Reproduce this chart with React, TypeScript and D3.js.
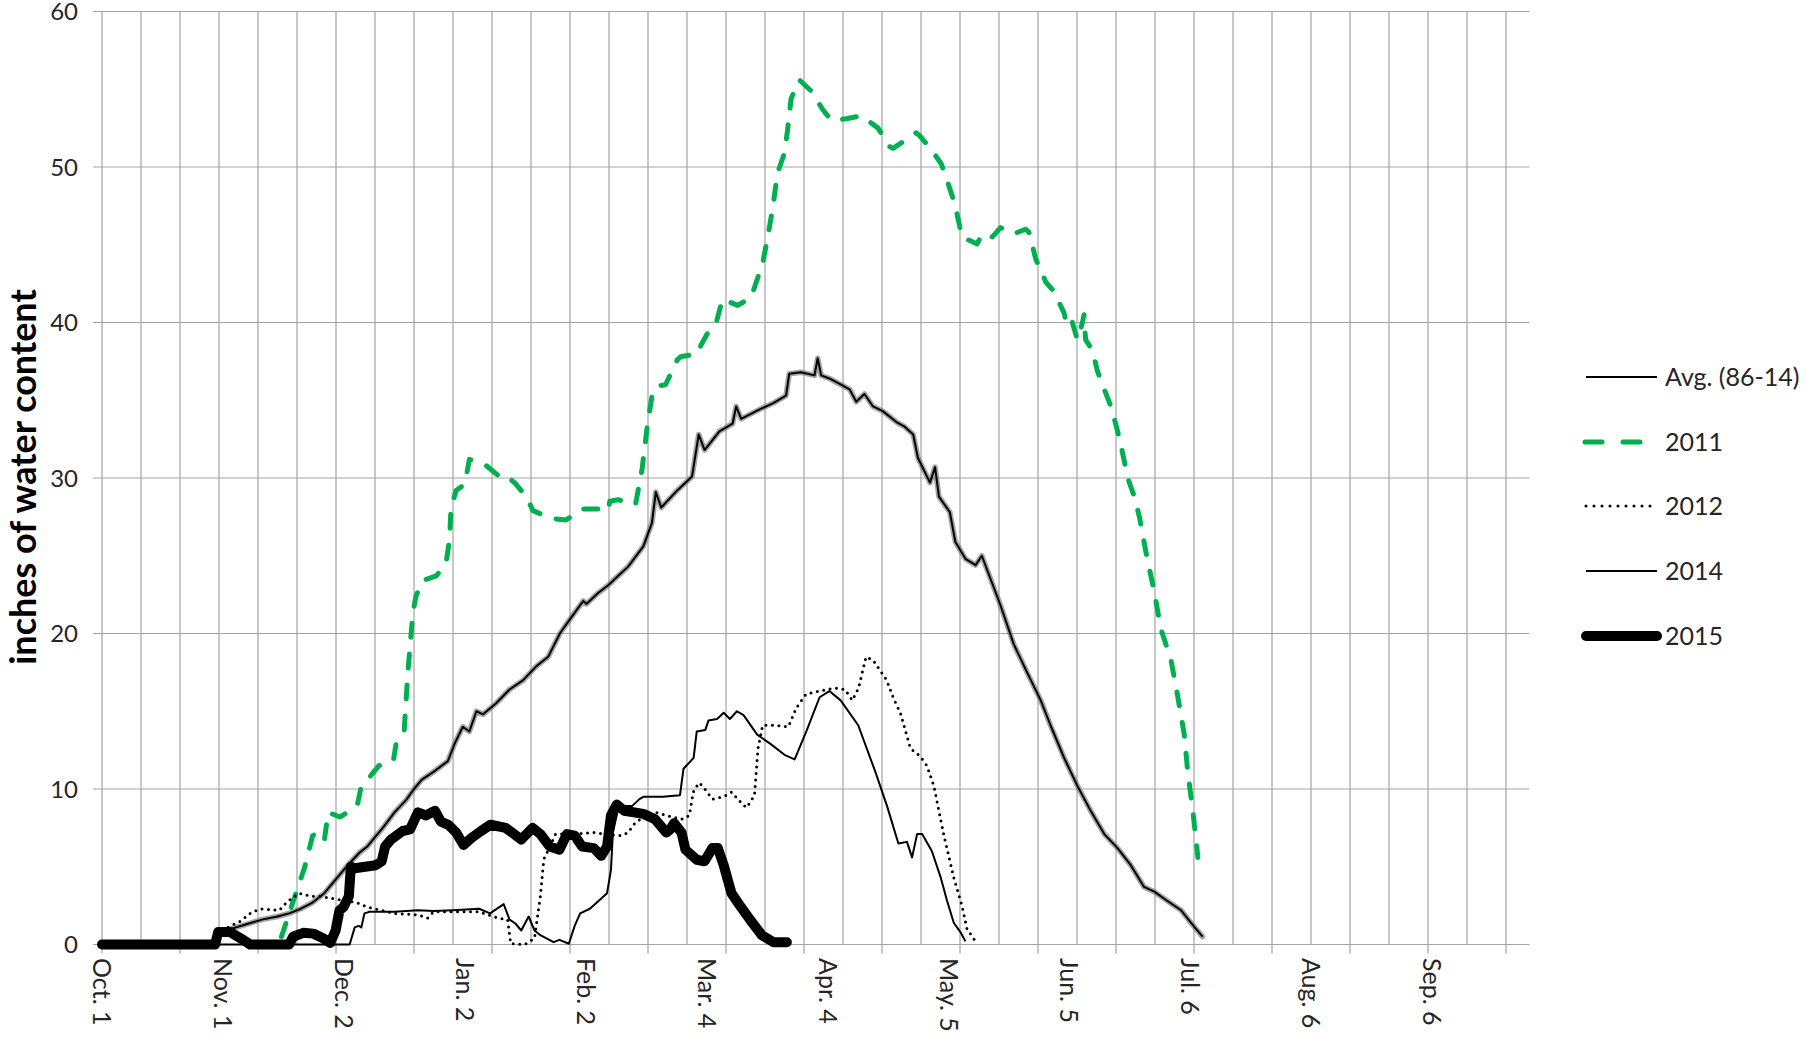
import React from "react";
import * as d3 from "d3";

// x = day index from Oct. 1 (leap-year season), y = inches of water content
const monthLabels = ["Oct. 1", "Nov. 1", "Dec. 2", "Jan. 2", "Feb. 2", "Mar. 4", "Apr. 4", "May. 5", "Jun. 5", "Jul. 6", "Aug. 6", "Sep. 6"];
const labelDays = [0, 31, 62, 93, 124, 155, 186, 217, 248, 279, 310, 341];
const yTicks = [0, 10, 20, 30, 40, 50, 60];

const avg86_14: [number, number][] = [
  [0, 0], [29, 0], [29.5, 0.8], [33, 1.0], [37, 1.3], [41, 1.6], [45, 1.8], [48, 2.0], [51, 2.3], [54, 2.7], [57, 3.3], [60, 4.2], [63, 5.1], [66, 5.9], [68, 6.3], [70, 6.9], [72, 7.5], [75, 8.5], [78, 9.3], [80, 10.0], [82, 10.6], [85, 11.1], [88.7, 11.8], [90.4, 12.9], [92.5, 14.0], [94.2, 13.7], [96, 15], [97.7, 14.8], [101, 15.5], [104.5, 16.4], [108, 17.0], [111.4, 17.9], [114.4, 18.5], [117.4, 20.0], [119.5, 20.75], [123.4, 22.1], [124.2, 21.9], [127.2, 22.6], [129.8, 23.1], [131.9, 23.6], [134.9, 24.3], [138.8, 25.6], [141, 27.1], [142, 29.1], [143.4, 28.1], [147.5, 29.2], [151.3, 30.1], [153, 32.8], [154.5, 31.8], [158.3, 33], [161.7, 33.5], [162.6, 34.6], [163.9, 33.8], [168.5, 34.4], [172, 34.8], [175.4, 35.3], [176.2, 36.7], [179.2, 36.8], [182.7, 36.6], [183.5, 37.7], [184.4, 36.6], [186.5, 36.4], [189.5, 36.0], [191.7, 35.7], [193.4, 34.9], [195.5, 35.4], [197.7, 34.6], [200.2, 34.3], [203.7, 33.6], [205.8, 33.3], [208, 32.8], [209.2, 31.3], [212.3, 29.7], [213.6, 30.7], [214.6, 28.8], [217.4, 27.8], [218.8, 25.9], [221.4, 24.8], [224, 24.4], [225.6, 25.0], [230.4, 21.8], [233.8, 19.3], [237.2, 17.5], [240.7, 15.7], [243.2, 14.1], [246.7, 12.0], [250.1, 10.2], [253.5, 8.6], [257, 7.1], [260.4, 6.2], [263.8, 5.1], [267.2, 3.7], [269.8, 3.4], [273.2, 2.8], [276.7, 2.2], [279.2, 1.4], [282.2, 0.5],
];

const y2011: [number, number][] = [
  [46, 0.5], [48, 2], [50, 3.5], [52, 5], [54, 7], [55.5, 7.2], [57, 6.7], [58, 8.5], [61, 8.2], [63, 8.5], [65.5, 9.0], [66.4, 10.1], [69.4, 11.0], [71, 11.5], [74.7, 11.8], [75.4, 12.9], [77.5, 13.8], [78.4, 17.4], [79.7, 21.3], [80.5, 22.4], [82.2, 23.4], [85.7, 23.7], [88.2, 24.5], [89.1, 26], [89.5, 28.1], [90.8, 29.2], [93, 29.6], [93.4, 30.1], [94.2, 31.2], [98.5, 30.8], [102.4, 30.0], [103.7, 30.1], [105.8, 29.7], [108.8, 28.8], [110.5, 27.9], [115.2, 27.4], [119, 27.3], [123.4, 28.0], [127.2, 28.0], [129.8, 27.9], [130.2, 28.5], [132.4, 28.6], [136.8, 28.3], [138.5, 30.6], [139.8, 33.3], [141.1, 35.4], [142, 35.9], [144.5, 36.0], [147.5, 37.6], [148.4, 37.8], [152.7, 38.0], [153.5, 38.5], [155.7, 39.5], [157.4, 39.9], [159.1, 41.5], [163, 41.1], [166.4, 41.6], [169.4, 43.8], [170.7, 45.5], [172, 47.4], [173.2, 49.6], [175, 50.9], [175.8, 52.4], [176.7, 54.4], [178.8, 55.6], [181.8, 54.9], [184.8, 53.7], [187, 53.0], [190.8, 53.1], [194.7, 53.3], [199, 52.5], [202, 51.3], [202.8, 51.2], [207.1, 51.9], [208.8, 52.2], [209.7, 52.0], [213, 51.0], [215.2, 50.2], [217, 48.9], [218.7, 47.6], [220.5, 45.5], [224.4, 45.05], [225.7, 45.7], [228.3, 45.5], [230.4, 46.1], [233.8, 45.7], [236.8, 46.0], [237.7, 45.8], [239.4, 44.1], [242, 42.6], [244.1, 42.0], [246.7, 40.6], [247.5, 39.7], [248.8, 40.0], [250.1, 38.9], [251.4, 40.0], [251.8, 40.5], [252.2, 38.9], [254, 38.2], [255.2, 36.9], [257, 35.7], [258.7, 34.6], [260, 33.4], [261.2, 32.2], [263, 30], [264.7, 28.8], [266, 27.5], [267.7, 25.2], [269.8, 22.7], [271.5, 20.3], [274.1, 18.3], [275.8, 16.0], [277.5, 13.5], [278.4, 11.1], [279.7, 8.6], [281, 5.6],
];

const y2012: [number, number][] = [
  [0, 0], [29, 0], [30, 0.8], [33, 1.2], [35.5, 1.5], [38, 2.0], [40.5, 2.3], [45.5, 2.2], [47.5, 2.75], [50.5, 3.3], [53.5, 3.1], [56, 3.1], [61.4, 2.85], [65.3, 2.7], [68.2, 2.4], [75, 2.0], [81, 1.9], [83.5, 1.7], [85, 2.1], [88, 2.1], [96.7, 2.1], [101.6, 1.7], [104, 1.6], [104.8, 0.05], [108.4, 0], [110.9, 0.4], [112.4, 3.1], [113.3, 5.5], [114.3, 6.0], [116.3, 7.1], [120.2, 7.1], [126.1, 7.2], [129, 7.1], [132.9, 7.0], [134.9, 7.2], [136.9, 7.9], [141.8, 8.5], [144.7, 8.3], [148.6, 8.05], [150.6, 8.3], [151.6, 9.8], [153, 10.4], [154, 10.2], [156.5, 9.35], [159.4, 9.5], [161.4, 9.8], [164.3, 9.0], [165.3, 8.8], [167.3, 9.6], [168.2, 12.6], [169.4, 14.1], [172, 14.1], [176, 14.0], [178, 15.2], [180.5, 16.1], [184, 16.3], [188, 16.5], [190.5, 16.4], [192.4, 15.7], [194, 16.5], [195.9, 18.5], [197.7, 18.3], [201.2, 17.0], [203, 15.8], [204.7, 14.9], [207.3, 12.6], [209.8, 12.1], [211.5, 11.5], [213.3, 10.2], [215.8, 7.1], [218.4, 4.3], [220.5, 2.5], [221.8, 1.0], [224.4, 0.05],
];

const y2014: [number, number][] = [
  [0, 0], [63.5, 0], [64.8, 1.1], [65.8, 1.2], [66.5, 1.1], [67.3, 2.0], [68.5, 2.1], [75, 2.1], [81, 2.2], [85, 2.15], [90, 2.2], [96.7, 2.3], [99.5, 2.0], [103, 2.6], [104.5, 1.6], [106, 1.35], [107.5, 0.9], [109.4, 1.8], [110.9, 0.9], [112.4, 0.6], [115.8, 0.15], [117.3, 0.3], [119.7, 0.05], [121.2, 1.2], [122.6, 2.0], [125.1, 2.3], [127.1, 2.75], [129.5, 3.3], [130.5, 4.8], [131, 7.2], [132.5, 8.9], [135.9, 8.9], [137.8, 9.35], [138.8, 9.5], [143.8, 9.5], [148.2, 9.6], [149.1, 11.3], [151.7, 12.0], [152.5, 13.7], [154.7, 13.8], [155.5, 14.4], [157.7, 14.5], [159.4, 14.9], [161, 14.5], [162.8, 15.0], [164.5, 14.75], [168, 13.5], [171.4, 12.9], [175, 12.2], [177.6, 11.9], [180.6, 13.7], [184, 15.9], [186.5, 16.3], [189.4, 15.7], [193.9, 14.1], [198.3, 11.1], [201.3, 8.9], [204.2, 6.5], [206.4, 6.6], [207.7, 5.6], [209, 7.1], [210.3, 7.1], [212.8, 6.0], [215, 4.35], [216.7, 2.8], [218.4, 1.4], [220.1, 0.8], [221.4, 0.2],
];

const y2015: [number, number][] = [
  [0, 0], [29, 0], [29.8, 0.8], [32.8, 0.8], [36.2, 0.3], [38, 0], [48, 0], [49, 0.5], [51.6, 0.75], [54.2, 0.7], [56.7, 0.4], [58.5, 0.1], [59.9, 0.9], [60.9, 2.2], [61.9, 2.4], [63.3, 3.1], [63.8, 5.0], [64.8, 4.9], [70.2, 5.1], [71.7, 5.35], [72.6, 6.3], [74.1, 6.75], [77.1, 7.3], [79, 7.4], [81, 8.5], [83, 8.3], [85.4, 8.6], [86.9, 7.9], [88.8, 7.7], [90.8, 7.2], [92.7, 6.4], [94.7, 6.85], [97.2, 7.3], [99.6, 7.7], [103.5, 7.5], [107.5, 6.75], [110.4, 7.5], [112.4, 7.1], [114.8, 6.3], [117.3, 6.1], [119.2, 7.1], [121.2, 7.0], [123.1, 6.3], [126.1, 6.2], [128, 5.7], [129.5, 6.3], [130.5, 8.3], [132, 9.0], [133.9, 8.6], [138.8, 8.4], [141.8, 8.05], [144.7, 7.2], [145.7, 7.4], [146.7, 7.8], [148.6, 7.2], [149.6, 6.1], [152.5, 5.45], [154.5, 5.35], [156.5, 6.2], [157.9, 6.2], [159.4, 5.1], [161.4, 3.3], [163.3, 2.6], [166.3, 1.55], [169.2, 0.6], [172.2, 0.15], [175.6, 0.15],
];

const legendNames = ["Avg. (86-14)", "2011", "2012", "2014", "2015"];

const W = 1806;
const H = 1038;
const FONT = "Lato, 'Liberation Sans', sans-serif";
const GRID = "#a3a3a3";
const GREEN = "#00b050";

export default function App() {
  const x = d3.scaleLinear().domain([0, 366]).range([102, 1529.4]);
  const y = d3.scaleLinear().domain([0, 60]).range([944.5, 11.5]);
  const line = d3
    .line<[number, number]>()
    .x((d) => x(d[0]))
    .y((d) => y(d[1]))
    .curve(d3.curveLinear);

  const gridDays = d3.range(0, 361, 10);
  const tickDays = d3.range(0, 361, 20);

  const legendY = [377, 442, 506, 571, 636];
  const lx0 = 1586;
  const lx1 = 1657;

  return (
    <svg
      width={W}
      height={H}
      viewBox={`0 0 ${W} ${H}`}
      style={{ position: "absolute", left: 0, top: 0, background: "#fff" }}
      fontFamily={FONT}
    >
      <rect x={0} y={0} width={W} height={H} fill="#fff" />
      {gridDays.map((d) => (
        <line key={"v" + d} x1={x(d)} x2={x(d)} y1={y(60)} y2={y(0)} stroke={GRID} strokeWidth={1.2} />
      ))}
      {tickDays.map((d) => (
        <line key={"t" + d} x1={x(d)} x2={x(d)} y1={y(0)} y2={y(0) + 9} stroke={GRID} strokeWidth={1.2} />
      ))}
      {yTicks.map((v) => (
        <line key={"h" + v} x1={93} x2={x(366)} y1={y(v)} y2={y(v)} stroke={GRID} strokeWidth={1.2} />
      ))}
      {yTicks.map((v) => (
        <text key={"yl" + v} x={78} y={y(v) + 8.5} textAnchor="end" fontSize={24} fill="#262626">
          {v}
        </text>
      ))}
      {labelDays.map((d, i) => (
        <text
          key={"xl" + d}
          transform={`translate(${x(d)},${958}) rotate(90)`}
          textAnchor="start"
          dy="0.35em"
          fontSize={25}
          fill="#262626"
        >
          {monthLabels[i]}
        </text>
      ))}
      <text
        transform={`translate(${23},${477}) rotate(-90)`}
        textAnchor="middle"
        dy="0.35em"
        fontSize={36}
        fontWeight="bold"
        fill="#000"
      >
        inches of water content
      </text>

      <path d={line(avg86_14) || ""} fill="none" stroke="#7f7f7f" strokeOpacity={0.7} strokeWidth={5.5} strokeLinejoin="round" strokeLinecap="round" />
      <path d={line(avg86_14) || ""} fill="none" stroke="#000" strokeWidth={2} strokeLinejoin="round" />
      <path d={line(y2011) || ""} fill="none" stroke={GREEN} strokeWidth={5} strokeDasharray="14 17" strokeLinecap="round" strokeLinejoin="round" />
      <path d={line(y2012) || ""} fill="none" stroke="#000" strokeWidth={3} strokeDasharray="0 6.5" strokeLinecap="round" strokeLinejoin="round" />
      <path d={line(y2014) || ""} fill="none" stroke="#000" strokeWidth={2} strokeLinejoin="round" />
      <path d={line(y2015) || ""} fill="none" stroke="#000" strokeWidth={10} strokeLinejoin="round" strokeLinecap="round" />

      <line x1={lx0} x2={lx1} y1={legendY[0]} y2={legendY[0]} stroke="#000" strokeWidth={2} />
      <line x1={lx0 - 1} x2={lx1 - 14} y1={legendY[1]} y2={legendY[1]} stroke={GREEN} strokeWidth={5} strokeDasharray="17 21" strokeLinecap="round" />
      <line x1={lx0} x2={lx1 - 6} y1={legendY[2]} y2={legendY[2]} stroke="#000" strokeWidth={3} strokeDasharray="0 8" strokeLinecap="round" />
      <line x1={lx0} x2={lx1} y1={legendY[3]} y2={legendY[3]} stroke="#000" strokeWidth={2} />
      <line x1={lx0} x2={lx1} y1={legendY[4]} y2={legendY[4]} stroke="#000" strokeWidth={10} strokeLinecap="round" />
      {legendNames.map((n, i) => (
        <text key={n} x={1665} y={legendY[i]} dy="0.35em" fontSize={25} fill="#262626">
          {n}
        </text>
      ))}
    </svg>
  );
}
